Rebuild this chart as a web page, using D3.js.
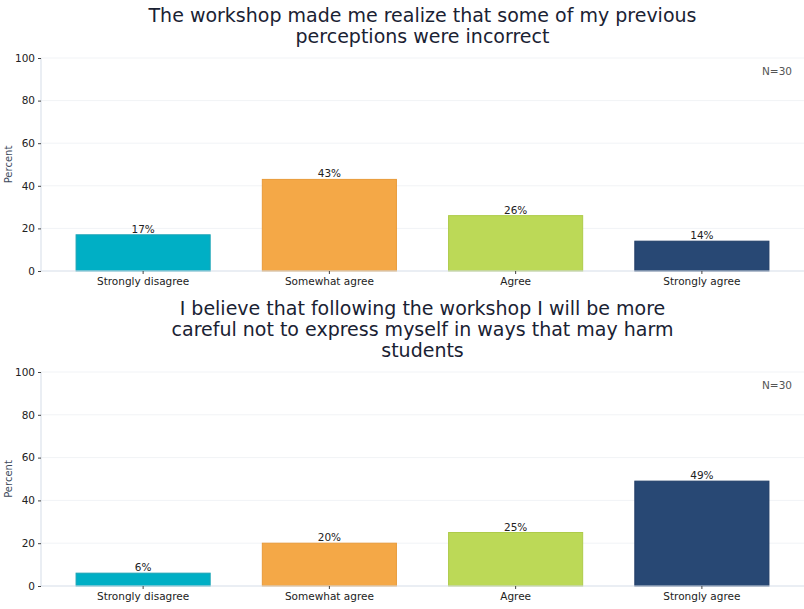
<!DOCTYPE html>
<html>
<head>
<meta charset="utf-8">
<script src="https://d3js.org/d3.v7.min.js"></script>
<style>
  body { margin: 0; background: #fff; font-family: "DejaVu Sans", sans-serif; }
  .axis path, .axis line { stroke: #d5dde8; }
  .axis .tick line { stroke: #444; }
  .grid line { stroke: #f1f3f6; }
</style>
</head>
<body>
<div id="chart"></div>
<script>
// data
var categories = ["Strongly disagree", "Somewhat agree", "Agree", "Strongly agree"];
var colors = ["#00afc5", "#f4a847", "#bcd957", "#284874"];
var edgeColors = ["#1aa3b5", "#e89a3a", "#aecb4a", "#1f3c66"];
var titles = [
  ["The workshop made me realize that some of my previous", "perceptions were incorrect"],
  ["I believe that following the workshop I will be more", "careful not to express myself in ways that may harm", "students"]
];
var values1 = [17, 43, 26, 14];
var values2 = [6, 20, 25, 49];
var yTicks = [0, 20, 40, 60, 80, 100];
var nLabel = "N=30";

var W = 804, H = 609;
var svg = d3.select("#chart").append("svg").attr("width", W).attr("height", H);

function panel(values, titleLines, top, bottom, titleY) {
  var left = 41, right = 804;
  var x = d3.scaleBand().domain(categories).range([50, 795]).paddingInner(0.28).paddingOuter(0.14);
  var y = d3.scaleLinear().domain([0, 100]).range([bottom, top]);
  var g = svg.append("g");

  // gridlines
  g.append("g").attr("class", "grid")
    .selectAll("line").data(yTicks.slice(1)).enter().append("line")
    .attr("x1", left).attr("x2", right)
    .attr("y1", function(d) { return y(d); }).attr("y2", function(d) { return y(d); });

  // bars
  g.selectAll("rect.bar").data(values).enter().append("rect")
    .attr("class", "bar")
    .attr("x", function(d, i) { return x(categories[i]); })
    .attr("y", function(d) { return y(d); })
    .attr("width", x.bandwidth())
    .attr("height", function(d) { return y(0) - y(d); })
    .attr("fill", function(d, i) { return colors[i]; })
    .attr("stroke", function(d, i) { return edgeColors[i]; })
    .attr("stroke-width", 1);

  // value labels
  g.selectAll("text.val").data(values).enter().append("text")
    .attr("x", function(d, i) { return x(categories[i]) + x.bandwidth() / 2; })
    .attr("y", function(d) { return y(d) - 2; })
    .attr("text-anchor", "middle")
    .attr("font-size", 10.5).attr("fill", "#222")
    .text(function(d) { return d + "%"; });

  // axes
  var yAxis = d3.axisLeft(y).tickValues(yTicks).tickSize(3).tickPadding(3);
  var ya = g.append("g").attr("class", "axis").attr("transform", "translate(" + left + ",0)").call(yAxis);
  ya.select(".domain").attr("d", "M0," + top + "V" + bottom);
  ya.selectAll("text").attr("font-size", 10.5).attr("fill", "#222").attr("font-family", "DejaVu Sans");

  var xAxis = d3.axisBottom(x).tickSize(3).tickPadding(4);
  var xa = g.append("g").attr("class", "axis").attr("transform", "translate(0," + bottom + ")").call(xAxis);
  xa.select(".domain").attr("d", "M" + left + ",0H" + right);
  xa.selectAll("text").attr("font-size", 10.5).attr("fill", "#222").attr("font-family", "DejaVu Sans");

  // y label
  g.append("text")
    .attr("transform", "translate(12," + ((top + bottom) / 2) + ") rotate(-90)")
    .attr("text-anchor", "middle").attr("font-size", 10).attr("fill", "#3d4a5c")
    .text("Percent");

  // N label
  g.append("text")
    .attr("x", 792).attr("y", top + 17)
    .attr("text-anchor", "end").attr("font-size", 10.5).attr("fill", "#555")
    .text(nLabel);

  // title
  g.append("g").selectAll("text").data(titleLines).enter().append("text")
    .attr("x", (left + right) / 2)
    .attr("y", function(d, i) { return titleY + i * 21; })
    .attr("text-anchor", "middle").attr("font-size", 19).attr("fill", "#1a2233")
    .text(function(d) { return d; });
}

panel(values1, titles[0], 58, 271, 22);
panel(values2, titles[1], 372, 586, 315);
</script>
</body>
</html>
